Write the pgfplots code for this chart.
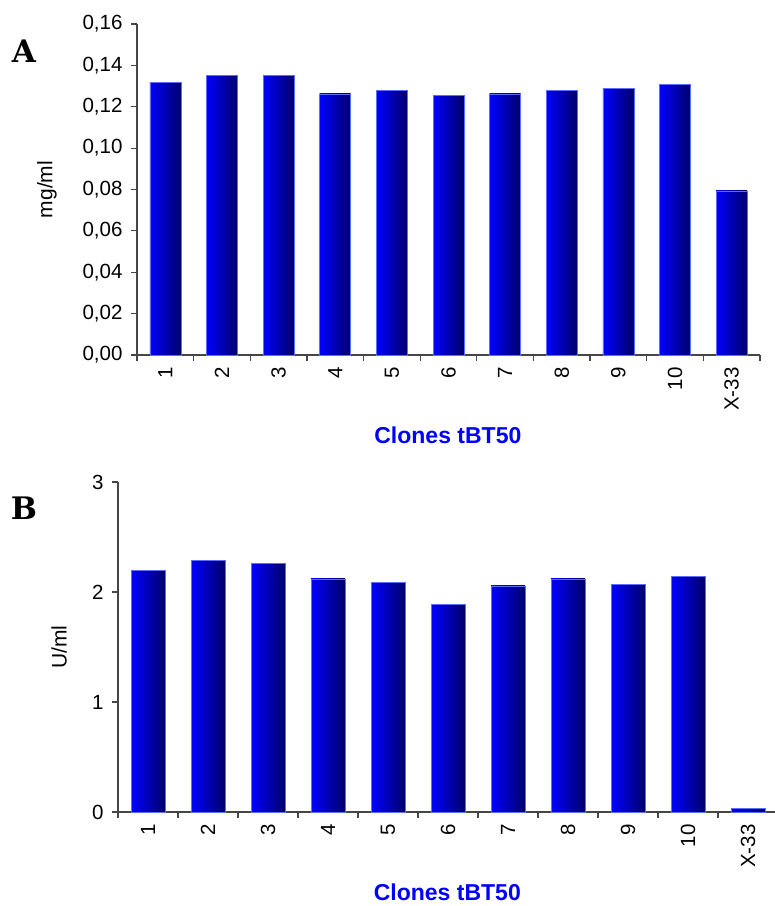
\documentclass[border=0pt]{standalone}
\usepackage{pgfplots}
\pgfplotsset{compat=1.18}
\usepackage{fontspec}
\setmainfont{Liberation Sans}
\newfontfamily\panelfont{DejaVu Serif}
\definecolor{barL}{RGB}{0,0,255}
\definecolor{barM}{RGB}{0,0,210}
\definecolor{barR}{RGB}{0,0,105}
\definecolor{barE}{RGB}{90,110,255}
\definecolor{axc}{RGB}{70,70,70}
\definecolor{lblue}{RGB}{0,0,255}

\pgfplotsset{
  common/.style={
    scale only axis,
    axis x line*=bottom,
    axis y line*=left,
    axis line style={draw=axc, line width=1.2pt},
    every tick/.style={draw=axc, line width=1.2pt},
    tick align=outside,
    major tick length=6pt,
    xmin=0.5, xmax=11.5,
    ymin=0,
    xtick={0.5,1.5,...,11.5},
    xticklabels={},
    extra x ticks={1,2,...,11},
    extra x tick labels={1,2,3,4,5,6,7,8,9,10,X-33},
    extra x tick style={major tick length=0pt},
    xticklabel style={rotate=90, anchor=east, font=\fontsize{20.5}{20.5}\selectfont},
    xticklabel shift=9pt,
    yticklabel style={font=\fontsize{20.5}{20.5}\selectfont, anchor=east, xshift=-5pt},
    ylabel style={font=\fontsize{21}{21}\selectfont},
    xlabel style={font=\fontsize{23}{23}\selectfont\bfseries, text=lblue, anchor=center},
    /pgf/number format/assume math mode=true,
    bar shift=0pt,
    clip=false,
  },
  mybar/.style={ybar, draw=barE, line width=0.6pt, left color=barL, middle color=barM, right color=barR},
}

\begin{document}
\begin{tikzpicture}
\useasboundingbox (0pt,0pt) rectangle (775pt,-906pt);

% Panel A
\begin{axis}[common,
  at={(137pt,-355pt)}, anchor=south west,
  width=623pt, height=331pt,
  ymax=0.16,
  ytick={0,0.02,0.04,0.06,0.08,0.10,0.12,0.14,0.16},
  yticklabel style={/pgf/number format/.cd, fixed, fixed zerofill, precision=2, use comma},
  ylabel={mg/ml},
  ylabel style={at={(axis description cs:-0.1445,0.5)}, anchor=center},
  xlabel={Clones tBT50},
  xlabel style={at={(axis description cs:0.499,-0.2417)}},
  bar width=31pt,
]
\addplot[mybar] coordinates {(1,0.1316)};
\addplot[mybar] coordinates {(2,0.1352)};
\addplot[mybar] coordinates {(3,0.1352)};
\addplot[mybar] coordinates {(4,0.1262)};
\addplot[mybar] coordinates {(5,0.1281)};
\addplot[mybar] coordinates {(6,0.1253)};
\addplot[mybar] coordinates {(7,0.1262)};
\addplot[mybar] coordinates {(8,0.1281)};
\addplot[mybar] coordinates {(9,0.1289)};
\addplot[mybar] coordinates {(10,0.1308)};
\addplot[mybar] coordinates {(11,0.0793)};
\end{axis}

% Panel B
\begin{axis}[common,
  at={(118pt,-812pt)}, anchor=south west,
  width=660pt, height=330pt,
  ymax=3,
  ytick={0,1,2,3},
  ylabel={U/ml},
  ylabel style={at={(axis description cs:-0.0894,0.5)}, anchor=center},
  xlabel={Clones tBT50},
  xlabel style={at={(axis description cs:0.499,-0.2424)}},
  bar width=34pt,
]
\addplot[mybar] coordinates {(1,2.196)};
\addplot[mybar] coordinates {(2,2.29)};
\addplot[mybar] coordinates {(3,2.26)};
\addplot[mybar] coordinates {(4,2.12)};
\addplot[mybar] coordinates {(5,2.09)};
\addplot[mybar] coordinates {(6,1.888)};
\addplot[mybar] coordinates {(7,2.055)};
\addplot[mybar] coordinates {(8,2.12)};
\addplot[mybar] coordinates {(9,2.07)};
\addplot[mybar] coordinates {(10,2.14)};
\addplot[mybar] coordinates {(11,0.03)};
\end{axis}

\node[font=\panelfont\bfseries\fontsize{31}{31}\selectfont, inner sep=0pt] at (24pt,-51pt) {A};
\node[font=\panelfont\bfseries\fontsize{31}{31}\selectfont, inner sep=0pt] at (24pt,-508pt) {B};
\end{tikzpicture}
\end{document}
